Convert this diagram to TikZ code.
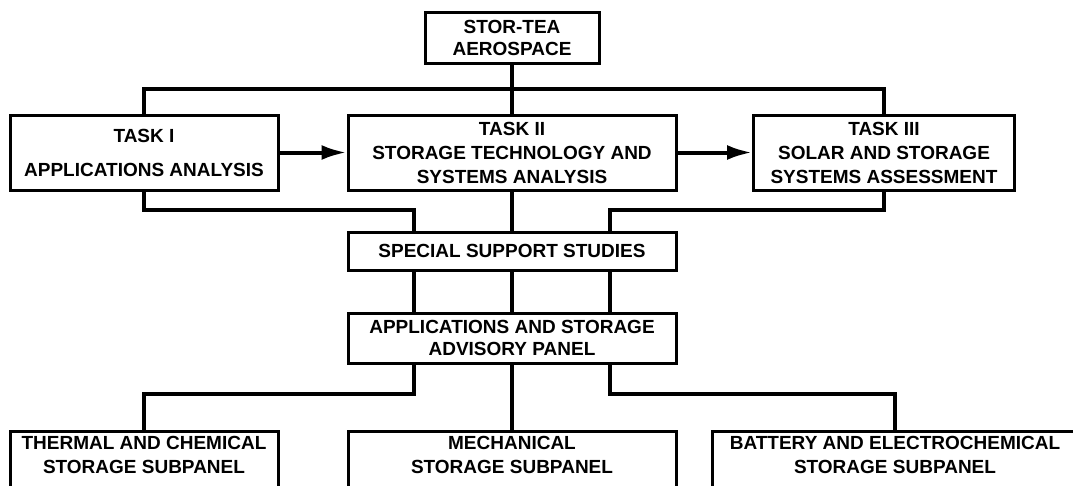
\documentclass[tikz,border=0pt]{standalone}
\usepackage{fontspec}
\setmainfont{Liberation Sans}
\usetikzlibrary{arrows.meta}

\begin{document}
\begin{tikzpicture}[x=1pt,y=-1pt]
      \tikzset{
        node distance=115pt,
        every node/.style={rectangle,draw,line width=3pt,align=center,inner sep=0pt,
          font=\fontsize{19}{22}\selectfont\bfseries},
        taskbox/.style={minimum width=#1,minimum height=75pt},
        subbox/.style={minimum width=#1,inner ysep=5pt,text depth=40pt},
        link/.style={line width=4pt},
        flow/.style={line width=4pt,-{Latex[length=25pt,width=15pt]}}
      }
      \useasboundingbox (0,0) rectangle (1073,485);

      \node[taskbox=174pt,minimum height=51pt] (stortea) at (512,37.5) {STOR-TEA\\AEROSPACE};
      \node[taskbox=328pt,below of=stortea] (tasktwo) {TASK II\\[2pt]STORAGE TECHNOLOGY AND\\[2pt]SYSTEMS ANALYSIS};
      \node[taskbox=268pt,left of=tasktwo,node distance=368pt] (taskone) {TASK I\\[12pt]APPLICATIONS ANALYSIS};
      \node[taskbox=261pt,right of=tasktwo,node distance=372pt] (taskthree) {TASK III\\[2pt]SOLAR AND STORAGE\\[2pt]SYSTEMS ASSESSMENT};
      \node[minimum width=328pt,minimum height=38pt,below of=tasktwo,node distance=98.5pt] (special) {SPECIAL SUPPORT STUDIES};
      \node[minimum width=328pt,minimum height=50pt,below of=special,node distance=87pt] (panel) {APPLICATIONS AND STORAGE\\ADVISORY PANEL};
      \node[subbox=328pt,below of=panel,node distance=92pt,anchor=north] (mechanical) {MECHANICAL\\[2pt]STORAGE SUBPANEL};
      \node[subbox=268pt,left of=mechanical,node distance=368pt] (thermal) {THERMAL AND CHEMICAL\\[2pt]STORAGE SUBPANEL};
      \node[subbox=366pt,right of=mechanical,node distance=383pt] (battery) {BATTERY AND ELECTROCHEMICAL\\[2pt]STORAGE SUBPANEL};

      \draw[link] (stortea) -- (tasktwo);
      \draw[link] (taskone.north) -- ++(0,-25) -| (taskthree.north);
      \draw[flow] (taskone) -- (tasktwo);
      \draw[flow] (tasktwo) -- (taskthree);
      \draw[link] (taskone.south) -- ++(0,18) -| ([xshift=-98pt]special.north);
      \draw[link] (tasktwo) -- (special);
      \draw[link] (taskthree.south) -- ++(0,18) -| ([xshift=98pt]special.north);
      \draw[link] ([xshift=-98pt]special.south) -- ([xshift=-98pt]panel.north);
      \draw[link] (special) -- (panel);
      \draw[link] ([xshift=98pt]special.south) -- ([xshift=98pt]panel.north);
      \draw[link] ([xshift=-98pt]panel.south) -- ++(0,29) -| (thermal.north);
      \draw[link] (panel) -- (mechanical);
      \draw[link] ([xshift=98pt]panel.south) -- ++(0,29) -| (battery.north);
    \end{tikzpicture}
\end{document}
